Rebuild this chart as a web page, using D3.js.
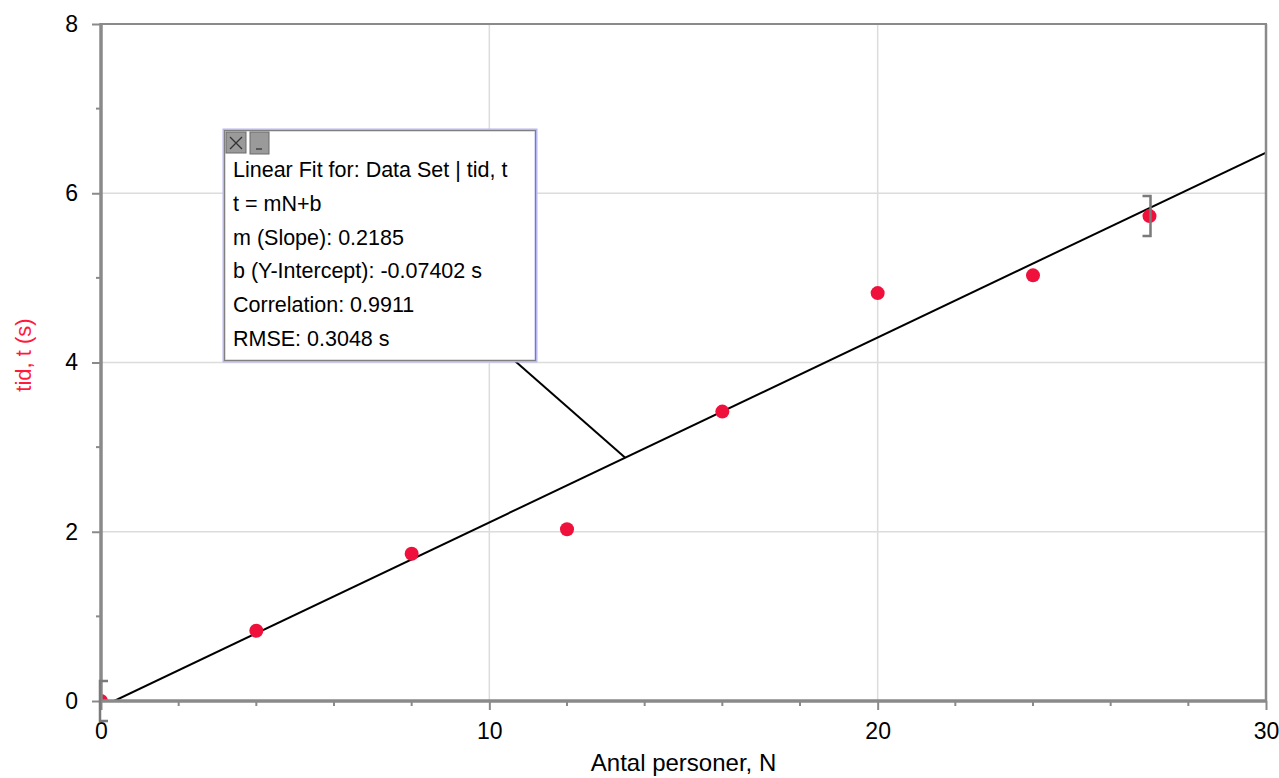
<!DOCTYPE html>
<html>
<head>
<meta charset="utf-8">
<script src="https://cdn.jsdelivr.net/npm/d3@7"></script>
<style>
  html, body { margin: 0; padding: 0; background: #fff; }
  svg { display: block; font-family: "Liberation Sans", Arial, sans-serif; }
</style>
</head>
<body>
<svg id="chart" width="1279" height="778"></svg>
<script>
// ---- Data ----
const personer = [0, 4, 8, 12, 16, 20, 24, 27];
const tid      = [0, 0.83, 1.74, 2.03, 3.42, 4.82, 5.03, 5.73];
const xTicks = [0, 10, 20, 30];
const yTicks = [0, 2, 4, 6, 8];
const xMinor = [2, 4, 6, 8, 12, 14, 16, 18, 22, 24, 26, 28];
const yMinor = [1, 3, 5, 7];
const fitSlope = 0.2185;
const fitIntercept = -0.07402;
const fitRangeIdx = [0, 7];
const fitLines = [
  "Linear Fit for: Data Set | tid, t",
  "t = mN+b",
  "m (Slope): 0.2185",
  "b (Y-Intercept): -0.07402 s",
  "Correlation: 0.9911",
  "RMSE: 0.3048 s"
];
const xTitle = "Antal personer, N";
const yTitle = "tid, t (s)";
const annotAnchorN = 13.5;

// ---- Layout ----
const svg = d3.select("#chart");
const L = 101, R = 1266, T = 24, B = 701;
const x = d3.scaleLinear().domain([0, 30]).range([L, R]);
const y = d3.scaleLinear().domain([0, 8]).range([B, T]);
const axisColor = "#8a8a8a";
const FONT = "'Liberation Sans', Arial, sans-serif";

// grid
svg.append("g").selectAll("line").data(xTicks.filter(d => d > 0 && d < 30)).join("line")
  .attr("x1", d => x(d)).attr("x2", d => x(d)).attr("y1", T).attr("y2", B)
  .attr("stroke", "#dcdcdc").attr("stroke-width", 1.5);
svg.append("g").selectAll("line").data(yTicks.filter(d => d > 0 && d < 8)).join("line")
  .attr("x1", L).attr("x2", R).attr("y1", d => y(d)).attr("y2", d => y(d))
  .attr("stroke", "#dcdcdc").attr("stroke-width", 1.5);

// clip
svg.append("clipPath").attr("id", "plotclip").append("rect")
  .attr("x", L).attr("y", T).attr("width", R - L).attr("height", B - T);

// fit line (clipped to t >= 0)
const n0 = -fitIntercept / fitSlope;
const plot = svg.append("g").attr("clip-path", "url(#plotclip)");
plot.append("line")
  .attr("x1", x(n0)).attr("y1", y(fitSlope * n0 + fitIntercept))
  .attr("x2", x(30)).attr("y2", y(fitSlope * 30 + fitIntercept))
  .attr("stroke", "#000").attr("stroke-width", 2);

// points
plot.selectAll("circle").data(personer.map((n, i) => [n, tid[i]])).join("circle")
  .attr("cx", d => x(d[0])).attr("cy", d => y(d[1])).attr("r", 7)
  .attr("fill", "#f0103c");

// axes
const xAxis = d3.axisBottom(x).tickValues(xTicks).tickSize(9).tickPadding(13);
const gx = svg.append("g").attr("transform", `translate(0,${B})`).call(xAxis);
const yAxis = d3.axisLeft(y).tickValues(yTicks).tickSize(9).tickPadding(14);
const gy = svg.append("g").attr("transform", `translate(${L},0)`).call(yAxis);
[gx, gy].forEach(g => {
  g.select(".domain").remove();
  g.selectAll(".tick line").attr("stroke", axisColor).attr("stroke-width", 2);
  g.selectAll(".tick text").attr("fill", "#000").style("font-size", "23px")
    .style("font-family", FONT);
});
// minor ticks
svg.append("g").selectAll("line").data(xMinor).join("line")
  .attr("x1", d => x(d)).attr("x2", d => x(d)).attr("y1", B).attr("y2", B + 5)
  .attr("stroke", axisColor).attr("stroke-width", 2);
svg.append("g").selectAll("line").data(yMinor).join("line")
  .attr("x1", L - 5).attr("x2", L).attr("y1", d => y(d)).attr("y2", d => y(d))
  .attr("stroke", axisColor).attr("stroke-width", 2);

// frame
svg.append("line").attr("x1", L).attr("x2", R + 1).attr("y1", T).attr("y2", T)
  .attr("stroke", axisColor).attr("stroke-width", 2);
svg.append("line").attr("x1", R).attr("x2", R).attr("y1", T).attr("y2", B)
  .attr("stroke", axisColor).attr("stroke-width", 2.5);
svg.append("line").attr("x1", L).attr("x2", L).attr("y1", T - 1).attr("y2", B + 1)
  .attr("stroke", axisColor).attr("stroke-width", 3.5);
svg.append("line").attr("x1", L - 1).attr("x2", R + 1).attr("y1", B).attr("y2", B)
  .attr("stroke", axisColor).attr("stroke-width", 3.5);

// fit range brackets (centred on first/last data point of the fit)
function bracket(i, dir) {
  const cx = x(personer[i]) + dir, cy = y(tid[i]);
  const h = 20, w = 8 * dir;
  svg.append("path")
    .attr("d", `M${cx - w},${cy - h} L${cx},${cy - h} L${cx},${cy + h} L${cx - w},${cy + h}`)
    .attr("fill", "none").attr("stroke", "#7a7a7a").attr("stroke-width", 2.5);
}
bracket(fitRangeIdx[0], -1);
bracket(fitRangeIdx[1], 1);

// axis titles
svg.append("text").attr("x", (L + R) / 2).attr("y", 771).attr("text-anchor", "middle")
  .style("font-size", "24px").attr("fill", "#000").text(xTitle);
svg.append("text").attr("transform", `translate(31,${355}) rotate(-90)`)
  .attr("text-anchor", "middle").style("font-size", "22px").attr("fill", "#ff1a3c").text(yTitle);

// annotation
const bx = 224, by = 130, bw = 312, bh = 231;
svg.append("line")
  .attr("x1", 515).attr("y1", by + bh)
  .attr("x2", x(annotAnchorN)).attr("y2", y(fitSlope * annotAnchorN + fitIntercept))
  .attr("stroke", "#000").attr("stroke-width", 2);
svg.append("rect").attr("x", bx).attr("y", by).attr("width", bw).attr("height", bh)
  .attr("fill", "#fff").attr("stroke", "#b8b8f0").attr("stroke-width", 3);
svg.append("rect").attr("x", bx + 0.5).attr("y", by + 0.5).attr("width", bw - 1).attr("height", bh - 1)
  .attr("fill", "none").attr("stroke", "#808080").attr("stroke-width", 1);
// buttons
svg.append("rect").attr("x", bx + 2).attr("y", by + 2).attr("width", 20).attr("height", 21)
  .attr("fill", "#9a9a9a").attr("stroke", "#6a6a6a");
svg.append("path").attr("d", `M${bx + 6},${by + 7} L${bx + 18},${by + 19} M${bx + 18},${by + 7} L${bx + 6},${by + 19}`)
  .attr("stroke", "#333").attr("stroke-width", 1.3);
svg.append("rect").attr("x", bx + 26).attr("y", by + 2).attr("width", 19).attr("height", 22)
  .attr("fill", "#9a9a9a").attr("stroke", "#6a6a6a");
svg.append("line").attr("x1", bx + 32).attr("x2", bx + 38).attr("y1", by + 19).attr("y2", by + 19)
  .attr("stroke", "#333").attr("stroke-width", 1.3);
svg.append("g").selectAll("text").data(fitLines).join("text")
  .attr("x", bx + 9).attr("y", (d, i) => by + 47 + i * 33.8)
  .style("font-size", "21.5px").attr("fill", "#000").text(d => d);
</script>
</body>
</html>
